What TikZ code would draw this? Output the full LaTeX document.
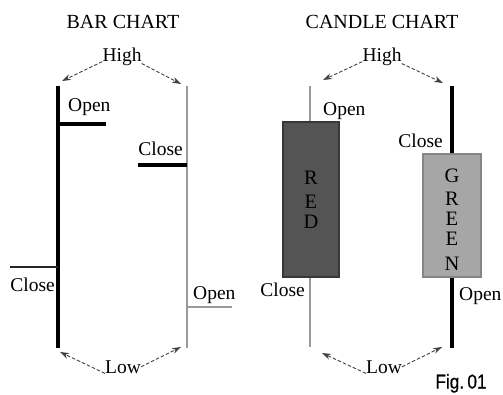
\documentclass[tikz,border=0pt]{standalone}
\usepackage{fontspec}
\setmainfont{Liberation Serif}
\newfontfamily\seriffont{Liberation Serif}
\newfontfamily\figfont[FakeStretch=0.86, FakeBold=0.6]{Liberation Sans}
\usetikzlibrary{arrows.meta}
\begin{document}
\begin{tikzpicture}[x=1pt, y=-1pt, font=\seriffont\fontsize{19.5}{22}\selectfont,
        lbl/.style={inner sep=0pt},
        pointer/.style={draw=black!75, dash pattern=on 3.5pt off 2pt, line width=.9pt, -{Stealth[length=9pt, width=6pt]}},
        heavy/.style={line width=3.5pt},
        light/.style={line width=2pt, black!40}]
    \useasboundingbox (0, 0) rectangle (503, 394);
    % bar chart
    \node[lbl, anchor=base, font=\seriffont\fontsize{20}{22}\selectfont] (bartitle) at (123, 28) {BAR CHART};
    \coordinate (bartopl) at (58, 86);
    \coordinate (barbotl) at (58, 348);
    \coordinate (bartopr) at (187, 86);
    \coordinate (barbotr) at (187, 348);
    \draw[heavy] (bartopl) -- (barbotl);
    \draw[light] (bartopr) -- (barbotr);
    \draw[heavy] (58, 124) -- (106, 124);
    \draw[line width=1.6pt, black!85] (10, 267) -- (58, 267);
    \draw[heavy] (138, 165) -- (187, 165);
    \draw[light] (187, 307) -- (232, 307);
    \node[lbl, anchor=base west] (baropenl) at (68, 111) {Open};
    \node[lbl, anchor=base east] (barcloser) at (183, 155) {Close};
    \node[lbl, anchor=base east] (barclosel) at (55, 291) {Close};
    \node[lbl, anchor=base west] (baropenr) at (193, 299) {Open};
    \node[lbl, anchor=base] (barhigh) at (122, 61) {High};
    \node[lbl, anchor=base] (barlow) at (123, 373) {Low};
    \coordinate (barhl) at (62, 81);
    \coordinate (barhr) at (181, 84);
    \coordinate (barll) at (60, 352);
    \coordinate (barlr) at (181, 347);
    \draw[pointer] (barhigh.-165) -- (barhl);
    \draw[pointer] (barhigh.-20) -- (barhr);
    \draw[pointer] (barlow.south west) -- (barll);
    \draw[pointer] (barlow.east) -- (barlr);
    % candle chart
    \node[lbl, anchor=base, font=\seriffont\fontsize{20}{22}\selectfont] (candletitle) at (382, 28) {CANDLE CHART};
    \coordinate (redtop) at (310, 86);
    \coordinate (redbot) at (310, 347);
    \coordinate (greentop) at (452, 86);
    \coordinate (greenbot) at (452, 348);
    \draw[light] (redtop) -- (redbot);
    \draw[heavy] (greentop) -- (greenbot);
    \draw[fill=black!67, draw=black!78, line width=1.2pt] (283, 122) rectangle (339, 277);
    \draw[fill=black!35, draw=black!48, line width=1.5pt] (423, 154) rectangle (481, 277);
    \foreach \c/\y in {R/184, E/208, D/228} {
            \node[lbl, anchor=base, font=\seriffont\fontsize{20.5}{22}\selectfont] (red\y) at (311, \y) {\c};
        }
    \foreach \c/\y in {G/182, R/205, E/225, E/245, N/270} {
            \node[lbl, anchor=base, font=\seriffont\fontsize{20.5}{22}\selectfont] (green\y) at (452, \y) {\c};
        }
    \node[lbl, anchor=base west] (redopen) at (323, 115) {Open};
    \node[lbl, anchor=base east] (greenclose) at (443, 147) {Close};
    \node[lbl, anchor=base east] (redclose) at (305, 296) {Close};
    \node[lbl, anchor=base west] (greenopen) at (459, 300) {Open};
    \node[lbl, anchor=base] (candlehigh) at (382, 61) {High};
    \node[lbl, anchor=base] (candlelow) at (384, 373) {Low};
    \coordinate (candlehl) at (323, 80);
    \coordinate (candlehr) at (443, 83);
    \coordinate (candlell) at (322, 353);
    \coordinate (candlelr) at (442, 347);
    \draw[pointer] (candlehigh.-165) -- (candlehl);
    \draw[pointer] (candlehigh.-20) -- (candlehr);
    \draw[pointer] (candlelow.south west) -- (candlell);
    \draw[pointer] (candlelow.east) -- (candlelr);
    \node[lbl, anchor=base, font=\figfont\fontsize{20}{22}\selectfont] (fig) at (461, 388.5) {Fig.\,01};
\end{tikzpicture}
\end{document}
